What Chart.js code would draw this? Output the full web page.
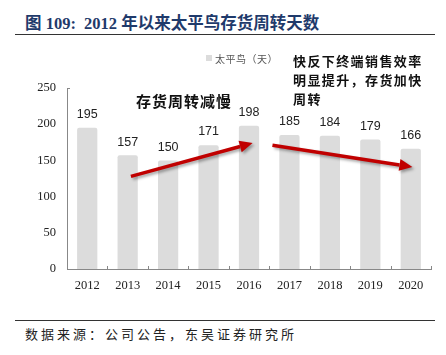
<!DOCTYPE html>
<html><head><meta charset="utf-8">
<script src="https://cdn.jsdelivr.net/npm/chart.js@4/dist/chart.umd.min.js"></script>
<style>
html,body{margin:0;padding:0;background:#fff;width:446px;height:355px;overflow:hidden;position:relative}
#wrap{position:absolute;left:0;top:0;width:446px;height:355px}
.t{position:absolute;white-space:nowrap}
.hr{position:absolute;left:15px;width:420px;height:0;border-top:1.5px solid #333}
</style></head><body>
<div class="t" style="left:25px;top:10px;font:bold 16.5px 'Liberation Serif','Noto Sans CJK SC';color:#1f3a6b">图 109:&nbsp;&nbsp;2012 年以来太平鸟存货周转天数</div>
<div class="hr" style="top:34px"></div>
<div class="hr" style="top:320px"></div>
<div class="t" style="left:25px;top:324px;font:13px 'Noto Sans CJK SC';letter-spacing:3px;color:#222">数据来源：公司公告，东吴证券研究所</div>
<div id="wrap"><canvas id="c"></canvas></div>
<div class="t" style="left:206px;top:55px;width:6px;height:6px;background:#dcdcdc"></div>
<div class="t" style="left:215px;top:51px;font:10px 'Noto Sans CJK SC';color:#555;letter-spacing:0.5px">太平鸟（天）</div>
<div class="t" style="left:136px;top:90px;font:bold 15px 'Noto Sans CJK SC';color:#111;letter-spacing:1px">存货周转减慢</div>
<div class="t" style="left:293px;top:51px;font:bold 13px/19px 'Noto Sans CJK SC';color:#111;letter-spacing:1.4px">快反下终端销售效率<br>明显提升，存货加快<br>周转</div>
<script>
const categories = ['2012','2013','2014','2015','2016','2017','2018','2019','2020'];
const inventoryDays = [195,157,150,171,198,185,184,179,166];
const yTicks = [0,50,100,150,200,250];
// annotation arrows: [startIndex, startValue, endIndex, endValue]
const arrowUp = [1.08, 128, 4.09, 174];
const arrowDown = [4.58, 171, 8.04, 141];

const labelPlugin = {
  id:'labels',
  afterDatasetsDraw(chart){
    const ctx=chart.ctx; const meta=chart.getDatasetMeta(0);
    ctx.save(); ctx.font="12.5px 'Liberation Sans', Arial"; ctx.fillStyle='#222';
    ctx.textAlign='center'; ctx.textBaseline='bottom';
    meta.data.forEach((el,i)=>{ ctx.fillText(String(inventoryDays[i]), el.x, el.y-7); });
    ctx.restore();
  },
  afterDraw(chart){
    const ctx=chart.ctx, xs=chart.scales.x, ys=chart.scales.y, a=chart.chartArea;
    ctx.save();
    ctx.strokeStyle='#888'; ctx.lineWidth=1;
    ctx.beginPath();
    for(let i=0;i<=categories.length;i++){
      const x=Math.round(xs.getPixelForValue(i-0.5))+0.5;
      ctx.moveTo(x,a.bottom); ctx.lineTo(x,a.bottom-3);
    }
    const yt=Math.round(ys.getPixelForValue(yTicks[yTicks.length-1]))+0.5;
    ctx.moveTo(a.left,yt); ctx.lineTo(a.left+3,yt);
    ctx.stroke();
    ctx.restore();
    function arrow(s){
      const x1=xs.getPixelForValue(s[0]), y1=ys.getPixelForValue(s[1]);
      const x2=xs.getPixelForValue(s[2]), y2=ys.getPixelForValue(s[3]);
      const ang=Math.atan2(y2-y1,x2-x1), hl=13, hw=6;
      const bx=x2-hl*Math.cos(ang), by=y2-hl*Math.sin(ang);
      ctx.beginPath(); ctx.moveTo(x1,y1); ctx.lineTo(bx,by); ctx.stroke();
      ctx.beginPath(); ctx.moveTo(x2,y2);
      ctx.lineTo(bx+hw*Math.sin(ang), by-hw*Math.cos(ang));
      ctx.lineTo(bx-hw*Math.sin(ang), by+hw*Math.cos(ang));
      ctx.closePath(); ctx.fill();
    }
    ctx.save();
    ctx.strokeStyle='#c00000'; ctx.fillStyle='#c00000'; ctx.lineWidth=3.5;
    ctx.shadowColor='rgba(0,0,0,0.35)'; ctx.shadowOffsetX=2; ctx.shadowOffsetY=2; ctx.shadowBlur=3;
    arrow(arrowUp); arrow(arrowDown);
    ctx.restore();
  }
};

new Chart(document.getElementById('c'),{
  type:'bar',
  data:{labels:categories,datasets:[{label:'太平鸟（天）',data:inventoryDays,backgroundColor:'#dcdcdc',
    barPercentage:0.5,categoryPercentage:1,borderRadius:{topLeft:2,topRight:2}}]},
  options:{
    responsive:true,maintainAspectRatio:false,animation:false,devicePixelRatio:1,
    layout:{padding:{left:0,right:15,top:88,bottom:61}},
    plugins:{legend:{display:false},tooltip:{enabled:false}},
    scales:{
      x:{grid:{display:false,drawTicks:false,tickLength:0},border:{display:true,color:'#888'},
        ticks:{color:'#222',font:{family:"'Liberation Serif'",size:12.5},padding:9,maxRotation:0},
        afterFit(s){s.height=25;}},
      y:{min:0,max:250,grid:{display:false,drawTicks:false,tickLength:0},border:{display:true,color:'#888'},
        afterBuildTicks(s){s.ticks=yTicks.map(v=>({value:v}));},
        ticks:{color:'#222',font:{family:"'Liberation Serif'",size:12.5},padding:11},
        afterFit(s){s.width=67;}}
    }
  },
  plugins:[labelPlugin]
});
</script>
</body></html>
